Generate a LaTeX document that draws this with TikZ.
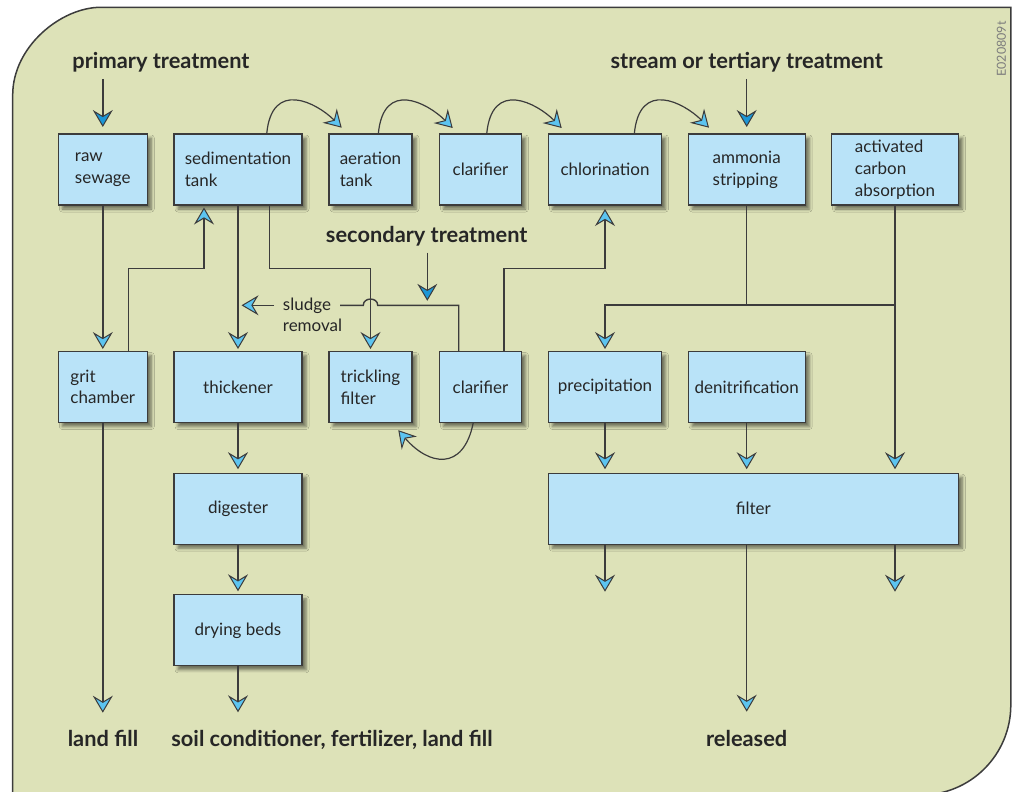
\documentclass[tikz,border=0pt]{standalone}
\usepackage{fontspec}
\setmainfont{Lato}
\usetikzlibrary{arrows.meta,shadows.blur}

\definecolor{panel}{RGB}{221,226,184}
\definecolor{boxfill}{RGB}{185,227,248}
\definecolor{ink}{RGB}{38,38,38}
\definecolor{edge}{RGB}{60,60,60}
\definecolor{tiplight}{RGB}{92,196,240}
\definecolor{tipdark}{RGB}{28,150,214}
\definecolor{tagtext}{RGB}{125,125,125}

\begin{document}
\begin{tikzpicture}[x=1pt,y=-1pt,
  proc/.style={draw=edge, line width=1.1pt, fill=boxfill, minimum height=71pt,
    inner sep=0pt, outer sep=0pt, align=left, text=ink,
    font=\fontsize{17}{21.7}\selectfont,
    blur shadow={shadow xshift=4pt, shadow yshift=-4pt, shadow blur radius=3pt, shadow opacity=50}},
  plain/.style={text=ink, inner sep=0pt, align=left, font=\fontsize{17}{21.7}\selectfont},
  title/.style={text=ink, inner sep=0pt, font=\fontsize{21.8}{24}\selectfont\bfseries},
  link/.style={draw=edge, line width=1.4pt},
  flow/.style={link, -{Stealth[length=17pt,width=20pt,inset=6pt,line width=1pt,fill=tiplight]}},
  inflow/.style={link, -{Stealth[length=17pt,width=20pt,inset=6pt,line width=1pt,fill=tipdark]}},
  curve/.style={flow, line width=1.2pt},
  tobox/.style={shorten >=2.5pt}
]
% panel with two rounded corners
\clip (0,0) rectangle (1012,792);
\filldraw[fill=panel, draw=edge, line width=1.5pt]
  (12.7,800) -- (12.7,95) .. controls (12.7,46.4) and (61.3,7.3) .. (100.7,7.3)
  -- (1010.8,7.3) -- (1010.8,705) .. controls (1010.8,754.7) and (970.7,795) .. (920.8,795)
  -- (920.8,800) -- cycle;

\node[rotate=90, text=tagtext, inner sep=0pt, font=\fontsize{12.5}{14}\selectfont] (tag) at (1001.5,49) {E020809t};

% first row
\node[proc, minimum width=89pt]  (raw)    at (102.8,169.5) {raw\\sewage};
\node[proc, minimum width=128pt] (sed)    at (238,169.5)   {sedimentation\\tank};
\node[proc, minimum width=83pt]  (aer)    at (370.5,169.5) {aeration\\tank};
\node[proc, minimum width=82pt]  (clarA)  at (480.5,169.5) {clarifier};
\node[proc, minimum width=113pt] (chlor)  at (605,169.5)   {chlorination};
\node[proc, minimum width=117pt] (ammo)   at (746.7,169.5) {ammonia\\stripping};
\node[proc, minimum width=127pt] (carbon) at (895,169.5)   {activated\\carbon\\absorption};
% second row
\node[proc, minimum width=89pt]  (grit)   at (102.8,387) {grit\\chamber};
\node[proc, minimum width=128pt] (thick)  at (238,387)   {thickener};
\node[proc, minimum width=83pt]  (trick)  at (370.5,387) {trickling\\filter};
\node[proc, minimum width=82pt]  (clarB)  at (480.5,387) {clarifier};
\node[proc, minimum width=113pt] (precip) at (605,387)   {precipitation};
\node[proc, minimum width=117pt] (denit)  at (746.7,387) {denitrification};
% lower boxes
\node[proc, minimum width=128pt] (digest) at (238,508.7)   {digester};
\node[proc, minimum width=128pt] (dry)    at (238,630.3)   {drying beds};
\node[proc, minimum width=410pt] (filter) at (753.3,508.7) {filter};

% headings and outlets
\node[title, anchor=base] (primary)   at (161,68.3)   {primary treatment};
\node[title, anchor=base] (stream)    at (746.7,68.3) {stream or tertiary treatment};
\node[title, anchor=base] (secondary) at (426.7,242.7) {secondary treatment};
\node[title, anchor=base] (landfill)  at (103,746)    {land fill};
\node[title, anchor=base] (soil)      at (332,746)    {soil conditioner, fertilizer, land fill};
\node[title, anchor=base] (released)  at (746.7,746)  {released};
\node[plain, anchor=base west] (sludge) at (282.7,331.7) {sludge\\removal};

% incoming streams
\coordinate (pA) at (102.8,79);
\draw[inflow, shorten >=7pt] (pA) -- (raw.north);
\coordinate (stA) at (746.7,79);
\draw[inflow, shorten >=7pt] (stA) -- (ammo.north);
\coordinate (secA) at (427.3,252.7);

% primary line
\draw[flow, tobox] (raw.south) -- (grit.north);
\coordinate (gA) at (128.7,268.3);
\coordinate (gB) at (204,268.3);
\draw[flow, tobox] (grit.north -| gA) -- (gA) -- (gB) -- (sed.south -| gB);
\coordinate (lOut) at (102.8,712.7);
\draw[flow] (grit.south) -- (lOut);

% sludge line
\draw[flow, tobox] (sed.south) -- (thick.north);
\draw[flow, shorten >=4pt] (thick.south) -- (digest.north);
\draw[flow, shorten >=3.5pt] (digest.south) -- (dry.north);
\coordinate (dOut) at (238,712.3);
\draw[flow] (dry.south) -- (dOut);

% sedimentation tank to trickling filter
\coordinate (tA) at (269.3,268.3);
\coordinate (tB) at (370.5,268.3);
\draw[flow, tobox] (sed.south -| tA) -- (tA) -- (tB) -- (trick.north);

% sludge return from the second clarifier, hopping over the feed line
\coordinate (sA) at (458.7,305.3);
\coordinate (hopR) at (377.7,305.3);
\coordinate (hopL) at (363.3,305.3);
\coordinate (sB) at (340,305.3);
\draw[link] (clarB.north -| sA) -- (sA) -- (hopR)
  .. controls +(0,-8.3) and +(0,-8.3) .. (hopL) -- (sB);
\coordinate (sC) at (274,305.3);
\draw[flow, shorten >=3.5pt] (sC) -- (sC -| thick.north);
\draw[inflow, shorten >=4.5pt] (secA) -- (secA |- sA);

% second clarifier to chlorination
\coordinate (cA) at (504,268.7);
\draw[flow, shorten >=4pt] (clarB.north -| cA) -- (cA) -| (chlor.south);

% hops along the top row
\draw[curve] ([xshift=28.7pt]sed.north) .. controls +(5,-55) and +(-25,-25) .. ([shift={(12.7,-6.3)}]aer.north west);
\draw[curve] ([xshift=7.8pt]aer.north) .. controls +(5,-55) and +(-25,-25) .. ([shift={(13.2,-6)}]clarA.north west);
\draw[curve] ([xshift=6.2pt]clarA.north) .. controls +(5,-55) and +(-25,-25) .. ([shift={(13.2,-6)}]chlor.north west);
\draw[curve] ([xshift=29.3pt]chlor.north) .. controls +(5,-55) and +(-25,-25) .. ([shift={(20.8,-6.3)}]ammo.north west);
\draw[curve] ([xshift=-7.2pt]clarB.south) .. controls +(-10,50) and +(30,35) .. ([shift={(-13.7,7.7)}]trick.south east);

% tertiary branch
\coordinate (jA) at (746.7,305);
\draw[link] (ammo.south) -- (jA);
\draw[flow, shorten >=4pt] (carbon.south) -- (carbon.south |- filter.north);
\draw[flow, tobox] (carbon.south |- jA) -| (precip.north);
\draw[flow, shorten >=4pt] (precip.south) -- (precip.south |- filter.north);
\draw[flow, shorten >=4pt] (denit.south) -- (denit.south |- filter.north);

% filter outlets
\coordinate (oA) at (605,591.7);
\coordinate (oB) at (895,591.7);
\coordinate (oC) at (746.7,711.7);
\draw[flow] (filter.south -| oA) -- (oA);
\draw[flow] (filter.south -| oB) -- (oB);
\draw[flow] (filter.south -| oC) -- (oC);
\end{tikzpicture}
\end{document}
